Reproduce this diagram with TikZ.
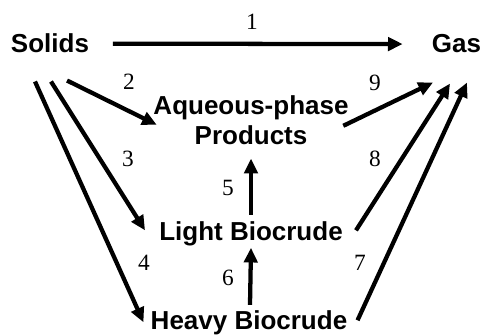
\documentclass[tikz,border=0pt]{standalone}
\usepackage{fontspec}
\setmainfont{Liberation Serif}
\setsansfont{Liberation Sans}
\usetikzlibrary{arrows.meta}

\begin{document}
\begin{tikzpicture}[
  x=0.75pt, y=-0.75pt,
  species/.style={font=\sffamily\bfseries\fontsize{19.5pt}{22.5pt}\selectfont,inner sep=0pt,align=center},
  num/.style={font=\fontsize{17.5pt}{20pt}\selectfont,inner sep=0pt},
  arrow/.style={-{Triangle[length=11pt,width=10pt]},line width=3.2pt}
]
  \useasboundingbox (0,0) rectangle (485,335);
  \node[species,anchor=base] (solids) at (50,53) {Solids};
  \node[species,anchor=base] (gas) at (456.5,53) {Gas};
  \node[species,anchor=north] (aqueous) at (251,95) {Aqueous-phase\\Products};
  \node[species,anchor=base] (light) at (251,240) {Light Biocrude};
  \node[species,anchor=base] (heavy) at (249,329) {Heavy Biocrude};
  \node[num] (k1) at (252,22) {1};
  \node[num] (k2) at (129,82) {2};
  \node[num] (k3) at (128,159) {3};
  \node[num] (k4) at (144,263) {4};
  \node[num] (k5) at (228,188) {5};
  \node[num] (k6) at (228,278) {6};
  \node[num] (k7) at (360,263) {7};
  \node[num] (k8) at (375,159) {8};
  \node[num] (k9) at (375,83) {9};
  \draw[arrow] ([shift={(23.5,0)}]solids.east) -- ([shift={(-29,0)}]gas.west);
  \draw[arrow] ([shift={(17,27)}]solids.south) -- ([shift={(3.5,5)}]aqueous.west);
  \draw[arrow] ([shift={(1,28)}]solids.south) -- ([shift={(-14,-3)}]light.west);
  \draw[arrow] ([shift={(-15,28)}]solids.south) -- ([shift={(-7,0)}]heavy.west);
  \draw[arrow] ([shift={(0,-6)}]light.north) -- ([shift={(0,14)}]aqueous.south);
  \draw[arrow] ([shift={(1,-5)}]heavy.north) -- ([shift={(0,2)}]light.south);
  \draw[arrow] ([shift={(10,-2)}]heavy.east) -- ([shift={(10.5,29)}]gas.south);
  \draw[arrow] ([shift={(13,-3)}]light.east) -- ([shift={(-6.5,30)}]gas.south);
  \draw[arrow] ([shift={(-5.5,6)}]aqueous.east) -- ([shift={(-23.5,29)}]gas.south);
\end{tikzpicture}
\end{document}
